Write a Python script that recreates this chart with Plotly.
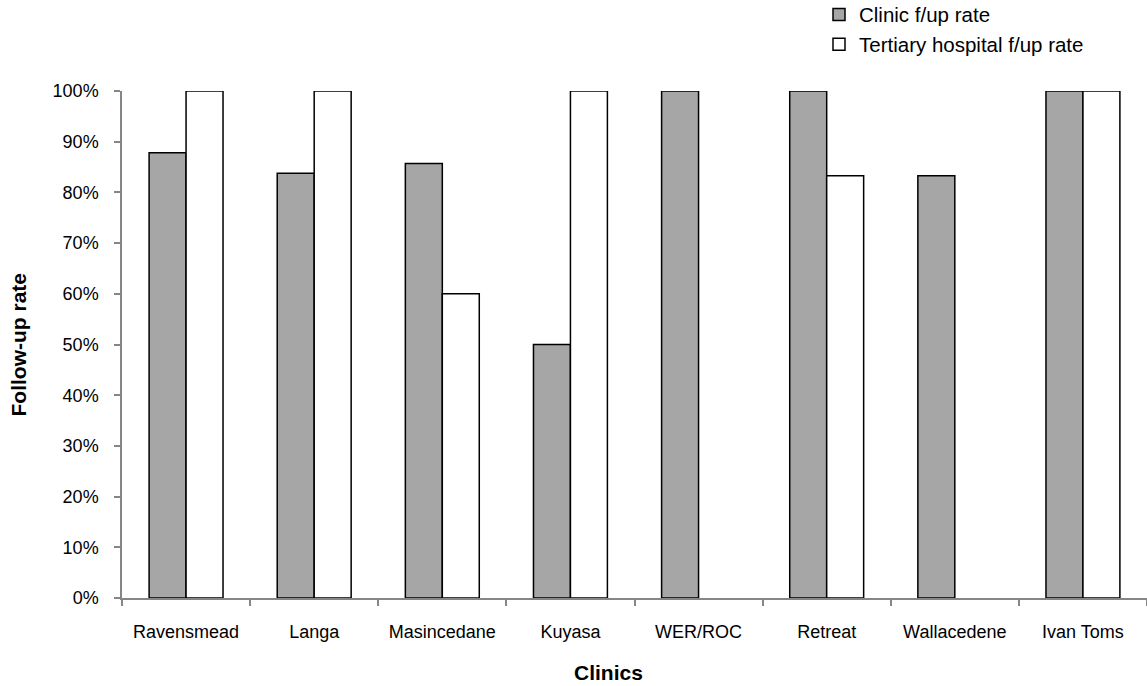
import plotly.graph_objects as go

clinics = ["Ravensmead", "Langa", "Masincedane", "Kuyasa", "WER/ROC", "Retreat", "Wallacedene", "Ivan Toms"]
clinic_rate = [0.878, 0.838, 0.857, 0.50, 1.00, 1.00, 0.833, 1.00]
tertiary_rate = [1.00, 1.00, 0.60, 1.00, None, 0.833, None, 1.00]

FONT = "Liberation Sans, Arial, sans-serif"
W, H = 1147, 686
ML, MR, MT, MB = 122, 0, 91, 88

fig = go.Figure()
fig.add_trace(go.Bar(x=clinics, y=clinic_rate, name="Clinic f/up rate",
                     marker=dict(color="#A6A6A6", line=dict(color="#000000", width=1.5))))
fig.add_trace(go.Bar(x=clinics, y=tertiary_rate, name="Tertiary hospital f/up rate",
                     marker=dict(color="#FFFFFF", line=dict(color="#000000", width=1.5))))

fig.update_layout(
    width=W, height=H,
    margin=dict(l=ML, r=MR, t=MT, b=MB, autoexpand=False),
    plot_bgcolor="white", paper_bgcolor="white",
    barmode="group", bargap=0.423, bargroupgap=0,
    font=dict(family=FONT, size=18, color="#000000"),
    showlegend=True,
    legend=dict(x=0.68, y=1.19, xanchor="left", yanchor="top",
                font=dict(size=20.5), itemwidth=30, bgcolor="rgba(0,0,0,0)",
                tracegroupgap=0),
    xaxis=dict(showline=True, linecolor="#868686", linewidth=1.5,
               ticks="outside", tickson="boundaries", ticklen=6, tickcolor="#868686",
               tickwidth=1.5, showgrid=False, ticklabelstandoff=17,
               tickfont=dict(size=18)),
    yaxis=dict(range=[0, 1], dtick=0.1, tickformat=".0%", showline=True,
               linecolor="#868686", linewidth=1.5, ticks="outside", ticklen=6,
               tickcolor="#868686", tickwidth=1.5, showgrid=False, zeroline=False,
               ticklabelstandoff=12, tickfont=dict(size=18)),
    annotations=[
        dict(text="<b>Clinics</b>", x=(608 - ML) / (W - ML - MR), y=(H - MB - 672) / (H - MT - MB),
             xref="paper", yref="paper", showarrow=False, font=dict(size=21),
             xanchor="center", yanchor="middle"),
        dict(text="<b>Follow-up rate</b>", x=(18 - ML) / (W - ML - MR), y=0.5,
             xref="paper", yref="paper", showarrow=False, font=dict(size=21),
             textangle=-90, xanchor="center", yanchor="middle"),
    ],
)

fig.write_html("out.html", config={"displayModeBar": False},
               post_script="document.body.style.margin='0';")
